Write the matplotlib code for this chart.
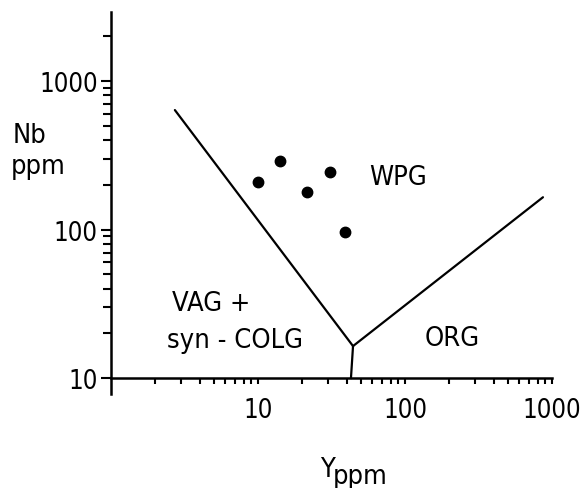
import matplotlib
matplotlib.use("Agg")
import matplotlib.pyplot as plt
from matplotlib.ticker import FixedLocator, NullFormatter

plt.rcParams['font.family'] = ['DejaVu Sans']
plt.rcParams['font.stretch'] = 'condensed'

# field boundaries (Y ppm, Nb ppm)
wpg_x = [2.72, 44.3]
wpg_y = [638, 16.4]
org_x = [44.3, 868]
org_y = [16.4, 165]
stem_x = [44.3, 42.9]
stem_y = [16.4, 10]

# samples
y_ppm = [10.0, 14.1, 21.5, 30.9, 39.1]
nb_ppm = [209, 289, 179, 244, 96]

fig = plt.figure(figsize=(5.82, 4.89), dpi=100)
ax = fig.add_axes([111 / 582, (489 - 395) / 489, 441 / 582, 382 / 489])
ax.set_xscale('log')
ax.set_yscale('log')
ax.set_xlim(1, 1000)
ax.set_ylim(7.8, 2920)

lw = 1.6
ax.plot(wpg_x, wpg_y, color='black', lw=lw, solid_capstyle='round')
ax.plot(org_x, org_y, color='black', lw=lw, solid_capstyle='round')
ax.plot(stem_x, stem_y, color='black', lw=lw)
ax.plot(y_ppm, nb_ppm, 'o', color='black', ms=7.5)

for s in ['top', 'right']:
    ax.spines[s].set_visible(False)
ax.spines['bottom'].set_position(('data', 10))
ax.spines['left'].set_linewidth(1.8)
ax.spines['bottom'].set_linewidth(1.8)

fs = 18.5
ax.xaxis.set_major_locator(FixedLocator([10, 100, 1000]))
ax.xaxis.set_minor_locator(FixedLocator([m * d for d in [1, 10, 100] for m in range(2, 10)]))
ax.set_xticklabels(['10', '100', '1000'])
ax.xaxis.set_minor_formatter(NullFormatter())
ax.yaxis.set_major_locator(FixedLocator([10, 100, 1000]))
ax.yaxis.set_minor_locator(FixedLocator([m * d for d in [10, 100] for m in range(2, 10)] + [2000]))
ax.set_yticklabels(['10', '100', '1000'])
ax.yaxis.set_minor_formatter(NullFormatter())

ax.tick_params(axis='x', which='both', direction='out', length=4, width=1.5,
               labelsize=fs, pad=10)
ax.tick_params(axis='y', which='major', direction='out', length=7, width=1.5,
               labelsize=fs, pad=2.5)
ax.tick_params(axis='y', which='minor', direction='out', length=6, width=1.5)

tfs = 19.5
ax.text(89.6, 226, 'WPG', fontsize=tfs, ha='center', va='center')
ax.text(2.6, 32, 'VAG +', fontsize=tfs, ha='left', va='center')
ax.text(2.4, 18.0, 'syn - COLG', fontsize=tfs, ha='left', va='center')
ax.text(209, 18.6, 'ORG', fontsize=tfs, ha='center', va='center')

fig.text(13 / 582, 1 - 143 / 489, 'Nb', fontsize=tfs, ha='left', va='baseline')
fig.text(11 / 582, 1 - 174 / 489, 'ppm', fontsize=tfs, ha='left', va='baseline')
fig.text(320 / 582, 1 - 477 / 489, 'Y', fontsize=tfs, ha='left', va='baseline')
fig.text(333 / 582, 1 - 484 / 489, 'ppm', fontsize=tfs, ha='left', va='baseline')

fig.savefig('out.png', dpi=100)
